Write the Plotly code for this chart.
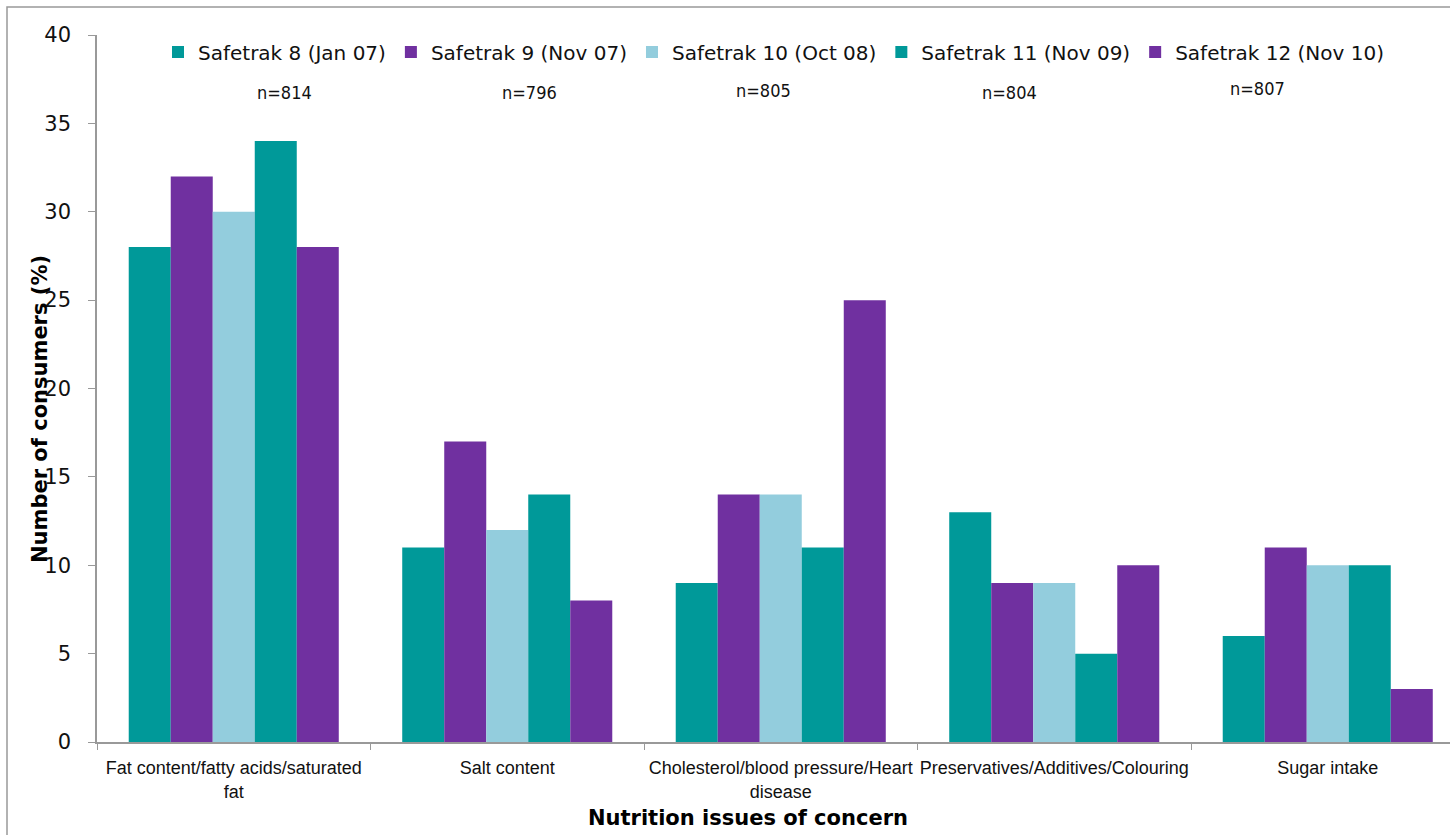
import plotly.graph_objects as go

categories = [
    "Fat content/fatty acids/saturated<br>fat",
    "Salt content",
    "Cholesterol/blood pressure/Heart<br>disease",
    "Preservatives/Additives/Colouring",
    "Sugar intake",
]
series_names = [
    "Safetrak 8 (Jan 07)",
    "Safetrak 9 (Nov 07)",
    "Safetrak 10 (Oct 08)",
    "Safetrak 11 (Nov 09)",
    "Safetrak 12 (Nov 10)",
]
safetrak8 = [28, 11, 9, 13, 6]
safetrak9 = [32, 17, 14, 9, 11]
safetrak10 = [30, 12, 14, 9, 10]
safetrak11 = [34, 14, 11, 5, 10]
safetrak12 = [28, 8, 25, 10, 3]
sample_sizes = ["n=814", "n=796", "n=805", "n=804", "n=807"]

colors = ["#009999", "#7030A0", "#93CDDD", "#009999", "#7030A0"]
series_values = [safetrak8, safetrak9, safetrak10, safetrak11, safetrak12]

fig = go.Figure()
for name, vals, col in zip(series_names, series_values, colors):
    fig.add_trace(go.Bar(
        x=categories, y=vals, name=name,
        marker=dict(color=col, line=dict(width=0)),
    ))

# plot area: left 97, right 1450, top 35, bottom 742
L, R, T, B = 97, 1450, 35, 742
W, H = 1450, 835
PW, PH = R - L, B - T

def px(x):
    return (x - L) / PW

def py(y):
    return (B - y) / PH

annotations = []
n_pos = [(284, 93), (529, 93), (763, 90), (1009, 92), (1257, 88)]
for txt, (ax, ay) in zip(sample_sizes, n_pos):
    annotations.append(dict(
        text=txt, x=px(ax), y=py(ay), xref="paper", yref="paper",
        xanchor="center", yanchor="middle", showarrow=False,
        font=dict(family="DejaVu Sans Condensed, DejaVu Sans", size=18, color="#111"),
    ))
annotations.append(dict(
    text="<b>Nutrition issues of concern</b>", x=px(748), y=py(818),
    xref="paper", yref="paper", xanchor="center", yanchor="middle",
    showarrow=False, font=dict(family="DejaVu Sans", size=21, color="#000"),
))
annotations.append(dict(
    text="<b>Number of consumers (%)</b>", x=px(40), y=py(409),
    xref="paper", yref="paper", xanchor="center", yanchor="middle",
    textangle=-90, showarrow=False,
    font=dict(family="DejaVu Sans", size=21, color="#000"),
))

fig.update_layout(
    width=W, height=H,
    margin=dict(l=L, r=W - R, t=T, b=H - B),
    paper_bgcolor="white", plot_bgcolor="white",
    barmode="group", bargap=0.232, bargroupgap=0,
    showlegend=True,
    legend=dict(
        orientation="h", x=px(158), y=py(52), xanchor="left", yanchor="middle",
        font=dict(family="DejaVu Sans", size=20, color="#111"),
        bgcolor="rgba(0,0,0,0)", traceorder="normal",
    ),
    xaxis=dict(
        range=[-0.5, (R - L) / 273.5 - 0.5],
        showline=True, linecolor="#999999", linewidth=1.5,
        ticks="outside", tickson="boundaries", ticklen=6, tickcolor="#999999",
        tickfont=dict(family="Liberation Sans, Arial", size=18, color="#111"),
        tickangle=0, automargin=False, ticklabelstandoff=9,
        showgrid=False, zeroline=False,
    ),
    yaxis=dict(
        range=[0, 40], dtick=5, tick0=0,
        showline=True, linecolor="#999999", linewidth=1.5,
        ticks="outside", ticklen=7, tickcolor="#999999",
        tickfont=dict(family="DejaVu Sans", size=21, color="#111"),
        ticklabelstandoff=13, automargin=False,
        showgrid=False, zeroline=False,
    ),
    annotations=annotations,
    shapes=[dict(
        type="rect", xref="paper", yref="paper",
        x0=px(7), x1=px(1600), y0=py(1000), y1=py(7),
        line=dict(color="#999999", width=1.5), fillcolor="rgba(0,0,0,0)",
        layer="below",
    )],
)

fig.write_html("out.html")
